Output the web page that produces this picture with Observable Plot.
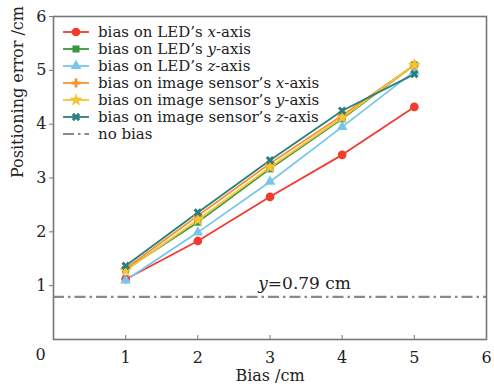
<!DOCTYPE html>
<html><head><meta charset="utf-8">
<script src="https://cdn.jsdelivr.net/npm/d3@7"></script>
<script src="https://cdn.jsdelivr.net/npm/@observablehq/plot@0.6"></script>
<style>
body{margin:0;background:#fff;}
#wrap{position:relative;width:494px;height:386px;font-family:"DejaVu Serif",serif;}
#legend{position:absolute;left:63px;top:23px;font-size:15px;color:#222;}
#legend .row{display:flex;align-items:center;height:17.1px;white-space:nowrap;}
#legend svg{margin-right:9px;}
</style></head>
<body><div id="wrap"><div id="legend"></div></div>
<script>
const bias = [1, 2, 3, 4, 5];
const ledX = [1.12, 1.83, 2.65, 3.43, 4.32];
const ledY = [1.30, 2.18, 3.17, 4.10, 5.10];
const ledZ = [1.10, 1.99, 2.93, 3.95, 4.98];
const imgX = [1.32, 2.30, 3.27, 4.16, 5.10];
const imgY = [1.28, 2.22, 3.20, 4.12, 5.10];
const imgZ = [1.37, 2.36, 3.33, 4.25, 4.93];
const noBias = 0.79;
const xTicks = [1, 2, 3, 4, 5, 6];
const yTicks = [1, 2, 3, 4, 5, 6];
const seriesNames = [
  ["bias on LED’s ", "x", "-axis"],
  ["bias on LED’s ", "y", "-axis"],
  ["bias on LED’s ", "z", "-axis"],
  ["bias on image sensor’s ", "x", "-axis"],
  ["bias on image sensor’s ", "y", "-axis"],
  ["bias on image sensor’s ", "z", "-axis"]
];
const colors = ["#f23b2f", "#3a9640", "#78c6ea", "#f79432", "#f6c335", "#2b7f7f"];

const symbolX = {
  draw(ctx, size) {
    const r = Math.sqrt(size / 5) / 2;
    const pts = [[-3*r,-r],[-r,-r],[-r,-3*r],[r,-3*r],[r,-r],[3*r,-r],[3*r,r],[r,r],[r,3*r],[-r,3*r],[-r,r],[-3*r,r]];
    pts.forEach(([x,y],i) => {
      const a = (x - y) / Math.SQRT2, b = (x + y) / Math.SQRT2;
      i ? ctx.lineTo(a, b) : ctx.moveTo(a, b);
    });
    ctx.closePath();
  }
};
const symbols = [d3.symbolCircle, d3.symbolSquare, d3.symbolTriangle, d3.symbolCross, d3.symbolStar, symbolX];
const sizes = [60, 50, 50, 45, 55, 45];

const seriesValues = [ledX, ledY, ledZ, imgX, imgY, imgZ];
const marks = [];
seriesValues.forEach((vals, i) => {
  const rows = bias.map((b, j) => ({b, v: vals[j]}));
  marks.push(Plot.line(rows, {x: "b", y: "v", stroke: colors[i], strokeWidth: 1.8}));
});
seriesValues.forEach((vals, i) => {
  const rows = bias.map((b, j) => ({b, v: vals[j]}));
  marks.push(Plot.dot(rows, {x: "b", y: "v", symbol: symbols[i], fill: colors[i], r: Math.sqrt(sizes[i] / Math.PI)}));
});

const labelPos = {x: 2.97, y: 1.04};

const chart = Plot.plot({
  width: 494, height: 386,
  marginLeft: 53, marginRight: 8, marginTop: 16, marginBottom: 47,
  style: {fontFamily: "DejaVu Serif, serif", fontSize: "16px", color: "#222", background: "#fff"},
  x: {domain: [0, 6]},
  y: {domain: [0, 6]},
  marks: [
    Plot.ruleY([noBias], {stroke: "#8a8a8a", strokeWidth: 2.2, strokeDasharray: "11,4,2.5,4"}),
    ...marks,
    Plot.text([labelPos], {x: "x", y: "y", text: () => "y", fontStyle: "italic", textAnchor: "end", fontSize: 17}),
    Plot.text([labelPos], {x: "x", y: "y", text: () => "=0.79 cm", textAnchor: "start", fontSize: 17}),
    Plot.frame({stroke: "#777", strokeWidth: 1.6}),
    Plot.axisX(xTicks, {tickSize: -4, tickPadding: 16, stroke: "#777", fontSize: 16, tickFormat: "d", label: null}),
    Plot.axisY(yTicks, {tickSize: 4, tickPadding: 3, stroke: "#777", fontSize: 16, tickFormat: "d", label: null}),
    Plot.text([0], {x: 0, y: 0, text: () => "0", dx: -13, dy: 15, fontSize: 16}),
    Plot.text(["Bias /cm"], {frameAnchor: "bottom", dy: 41, fontSize: 16}),
    Plot.text(["Positioning error /cm"], {frameAnchor: "left", dx: -36, rotate: -90, fontSize: 16})
  ]
});
document.getElementById("wrap").prepend(chart);

const legend = document.getElementById("legend");
const entries = seriesNames.map((n, i) => ({n, color: colors[i], symbol: symbols[i], size: sizes[i]}));
entries.push({n: ["no bias", "", ""], color: "#8a8a8a", dash: true});
entries.forEach(e => {
  const row = document.createElement("div");
  row.className = "row";
  const svg = d3.create("svg").attr("width", 26).attr("height", 14);
  svg.append("line").attr("x1", 0).attr("x2", 26).attr("y1", 7).attr("y2", 7)
    .attr("stroke", e.color).attr("stroke-width", e.dash ? 2.2 : 1.8)
    .attr("stroke-dasharray", e.dash ? "11,4,2.5,4" : null);
  if (e.symbol) svg.append("path").attr("d", d3.symbol(e.symbol, e.size)()).attr("transform", "translate(13,7)").attr("fill", e.color);
  row.appendChild(svg.node());
  const span = document.createElement("span");
  span.append(e.n[0]);
  if (e.n[1]) { const it = document.createElement("i"); it.textContent = e.n[1]; span.append(it); }
  span.append(e.n[2]);
  row.appendChild(span);
  legend.appendChild(row);
});
</script></body></html>
